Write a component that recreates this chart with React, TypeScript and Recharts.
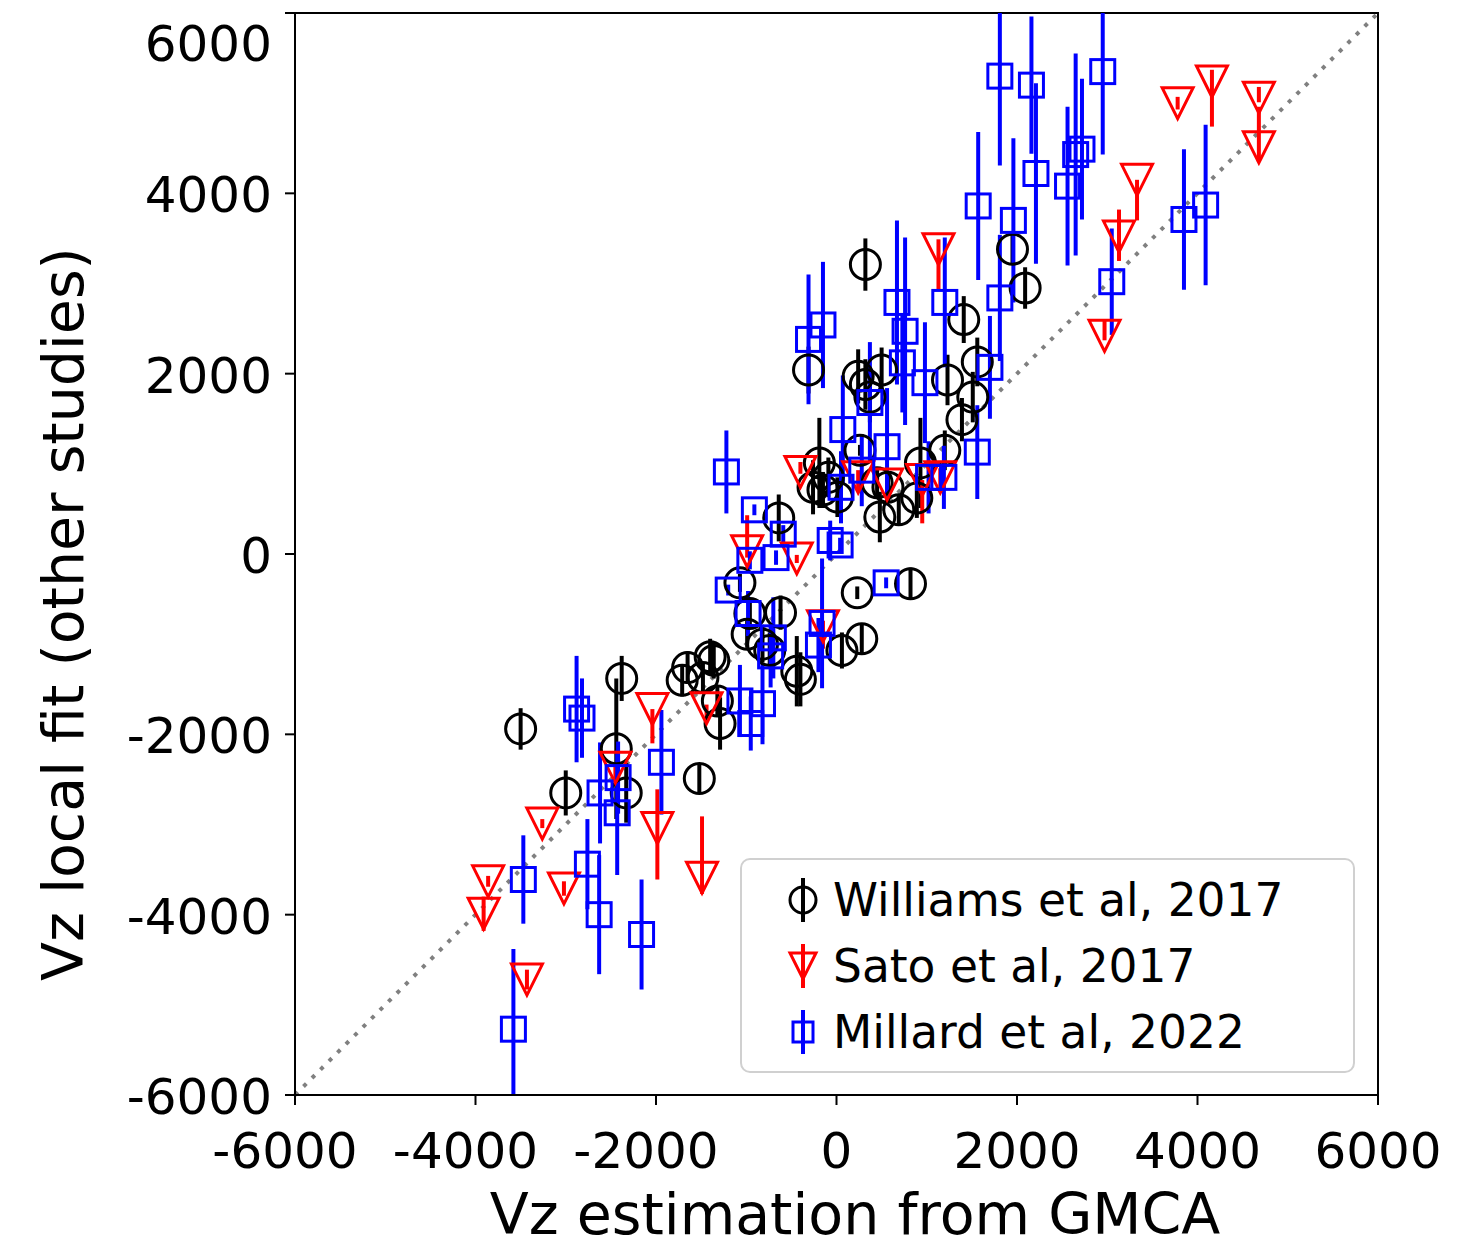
import React from 'react';
import { ScatterChart, Scatter, XAxis, YAxis, ErrorBar, ReferenceLine, ReferenceArea, Legend, Label } from 'recharts';

// Williams et al, 2017
const williamsX = [-3500, -3000, -2380, -2440, -2330, -1520, -1710, -1650, -1400, -1360, -1480, -1320, -1290, -1070, 230, -960, -620, -990, -820, -740, -440, -400, 60, 280, 820, -640, -310, 240, 320, 500, 370, 1230, 1560, 1390, 1510, 1200, 260, -190, -260, -90, 10, -150, 480, 690, 890, 930, 570, 450, 320, 1950, 2090, 1410];
const williamsY = [-1940, -2650, -1380, -2160, -2650, -2490, -1400, -1260, -1140, -1180, -1370, -1630, -1880, -320, -430, -660, -650, -890, -1000, -1070, -1300, -1390, -1070, -940, -330, 400, 2040, 1970, 1880, 2040, 1740, 1930, 2130, 1490, 1740, 1150, 1150, 1010, 740, 850, 630, 710, 410, 490, 620, 1010, 740, 790, 3210, 3380, 2950, 2600];
const williamsErr = [230, 250, 250, 780, 330, 150, 180, 180, 200, 200, 150, 170, 290, 100, 70, 120, 190, 150, 200, 200, 390, 300, 200, 170, 180, 260, 260, 300, 280, 250, 280, 280, 270, 240, 280, 220, 60, 500, 300, 220, 220, 200, 280, 170, 220, 500, 170, 150, 290, 170, 230, 260];

// Sato et al, 2017 (errors as [below, above])
const satoX = [-3860, -3910, -3430, -3260, -3020, -2450, -2040, -1985, -1490, -1440, -990, -440, -400, -150, 240, 560, 950, 1150, 1130, 2970, 3130, 3330, 3780, 4160, 4680, 4680];
const satoY = [-3630, -3990, -4720, -2990, -3710, -2370, -1720, -3040, -3590, -1710, 30, -50, 910, -800, 850, 770, 820, 850, 3380, 2420, 3520, 4150, 5000, 5240, 5060, 4510];
const satoErr = [[60, 60], [190, 190], [110, 110], [50, 50], [80, 80], [150, 50], [380, 0], [570, 430], [180, 680], [120, 40], [70, 400], [50, 40], [20, 110], [250, 60], [150, 80], [150, 100], [480, 0], [100, 100], [450, 110], [50, 180], [270, 300], [450, 0], [70, 70], [500, 130], [50, 120], [160, 450]];

// Millard et al, 2022
const millardX = [-3580, -3470, -2880, -2820, -2760, -2630, -2620, -2430, -2420, -2160, -1940, -1220, -1200, -910, -960, -670, -590, -70, 40, 550, -160, -200, -980, -700, -730, -1070, -820, -950, -310, -150, 70, 670, 760, 730, 980, 1200, 1810, 1700, 1560, 1810, 2160, 2950, 1570, 1960, 2210, 2560, 2650, 2720, 3050, 3850, 4090, 560, 370, 280, 50, 1020, 1190];
const millardY = [-5270, -3610, -1720, -1820, -3440, -4000, -2650, -2870, -2480, -4220, -2310, 910, -400, 490, -70, -40, 220, 150, 100, -320, -770, -1010, -660, -930, -1130, -1630, -1660, -1880, 2380, 2540, 1380, 2790, 2470, 2120, 1900, 2790, 2840, 2070, 1130, 5300, 5200, 5350, 3860, 3700, 4220, 4080, 4430, 4490, 3020, 3710, 3870, 1190, 1680, 930, 740, 850, 850];
const millardErr = [890, 490, 590, 440, 500, 660, 560, 690, 400, 610, 580, 460, 60, 60, 100, 80, 100, 220, 80, 60, 720, 300, 250, 450, 350, 400, 450, 300, 720, 700, 600, 910, 1040, 550, 670, 720, 700, 570, 520, 990, 760, 920, 820, 910, 1000, 880, 1120, 780, 590, 780, 890, 650, 670, 400, 400, 400, 350];

const axisTicks = [-6000, -4000, -2000, 0, 2000, 4000, 6000];
const LIM = 6000;

const williams = williamsX.map((x, i) => ({ x, y: williamsY[i], err: williamsErr[i] }));
const sato = satoX.map((x, i) => ({ x, y: satoY[i], err: satoErr[i] }));
const millard = millardX.map((x, i) => ({ x, y: millardY[i], err: millardErr[i] }));

// keep error bars inside the axes box (matplotlib clips them there)
// recharts hands the scatter point item here, the original row is in .payload
const clippedErr = (d: any) => {
  const row = d.payload ?? d;
  const [lo, hi] = Array.isArray(row.err) ? row.err : [row.err, row.err];
  return [Math.min(lo, row.y + LIM), Math.min(hi, LIM - row.y)];
};

const FONT = 'DejaVu Sans';

const circleShape = (p: any) => (
  <circle cx={p.cx} cy={p.cy} r={15} fill="none" stroke="#000" strokeWidth={3} />
);
const triangleShape = (p: any) => (
  <polygon
    points={`${p.cx - 15.5},${p.cy - 15.5} ${p.cx + 15.5},${p.cy - 15.5} ${p.cx},${p.cy + 15.5}`}
    fill="none"
    stroke="#ff0000"
    strokeWidth={3}
  />
);
const squareShape = (p: any) => (
  <rect x={p.cx - 12} y={p.cy - 12} width={24} height={24} fill="none" stroke="#0000ff" strokeWidth={3} />
);

const XTick = (props: any) => (
  <text
    x={props.x + (props.payload.value < 0 ? -10 : 0)}
    y={props.y + 63}
    textAnchor="middle"
    fontSize={50}
    fontFamily={FONT}
    fill="#000"
  >
    {props.payload.value}
  </text>
);

const YTick = (props: any) => (
  <text
    x={props.x}
    y={props.y + 19 + (props.payload.value === 6000 ? 29 : 0)}
    textAnchor="end"
    fontSize={50}
    fontFamily={FONT}
    fill="#000"
  >
    {props.payload.value}
  </text>
);

const legendItems = [
  { name: 'Williams et al, 2017', color: '#000', shape: 'circle' },
  { name: 'Sato et al, 2017', color: '#ff0000', shape: 'triangle' },
  { name: 'Millard et al, 2022', color: '#0000ff', shape: 'square' },
];

const renderLegend = () => (
  <svg width={615} height={215}>
    <rect x={1} y={1} width={613} height={213} rx={9} fill="rgba(255,255,255,0.8)" stroke="#d0d0d0" strokeWidth={2} />
    {legendItems.map((it, i) => {
      const cy = 42 + i * 66;
      const cx = 63;
      return (
        <g key={it.name}>
          <line x1={cx} x2={cx} y1={cy - 22} y2={cy + 22} stroke={it.color} strokeWidth={4} />
          {it.shape === 'circle' && <circle cx={cx} cy={cy} r={13} fill="none" stroke={it.color} strokeWidth={3} />}
          {it.shape === 'triangle' && (
            <polygon points={`${cx - 13},${cy - 13} ${cx + 13},${cy - 13} ${cx},${cy + 13}`} fill="none" stroke={it.color} strokeWidth={3} />
          )}
          {it.shape === 'square' && <rect x={cx - 10} y={cy - 10} width={20} height={20} fill="none" stroke={it.color} strokeWidth={3} />}
          <text x={93} y={cy + 16} fontSize={45.5} fontFamily={FONT} fill="#000">{it.name}</text>
        </g>
      );
    })}
  </svg>
);

const App = () => {
  return (
    <div style={{ position: 'absolute', left: 0, top: 0, width: 1484, height: 1247, background: '#fff', fontFamily: FONT }}>
      <ScatterChart width={1484} height={1247} margin={{ top: 13, right: 106, bottom: 0, left: 0 }}>
        <XAxis
          type="number"
          dataKey="x"
          domain={[-LIM, LIM]}
          ticks={axisTicks}
          interval={0}
          allowDataOverflow
          height={152}
          tickSize={10}
          tickMargin={0}
          axisLine={{ stroke: '#000', strokeWidth: 2 }}
          tickLine={{ stroke: '#000', strokeWidth: 2 }}
          tick={<XTick />}
        >
          <Label
            content={() => (
              <text x={855} y={1234} textAnchor="middle" fontSize={57} fontFamily={FONT} fill="#000">
                Vz estimation from GMCA
              </text>
            )}
          />
        </XAxis>
        <YAxis
          type="number"
          dataKey="y"
          domain={[-LIM, LIM]}
          ticks={axisTicks}
          interval={0}
          allowDataOverflow
          width={295}
          tickSize={10}
          tickMargin={13}
          axisLine={{ stroke: '#000', strokeWidth: 2 }}
          tickLine={{ stroke: '#000', strokeWidth: 2 }}
          tick={<YTick />}
        >
          <Label
            content={() => (
              <text x={83} y={614} transform="rotate(-90 83 614)" textAnchor="middle" fontSize={57} fontFamily={FONT} fill="#000">
                Vz local fit (other studies)
              </text>
            )}
          />
        </YAxis>
        <ReferenceArea x1={-LIM} x2={LIM} y1={-LIM} y2={LIM} fill="none" stroke="#000" strokeWidth={2} />
        <ReferenceLine
          segment={[{ x: -LIM, y: -LIM }, { x: LIM, y: LIM }]}
          stroke="#808080"
          strokeWidth={4}
          strokeDasharray="4 8"
        />
        <Scatter name="Williams et al, 2017" data={williams} shape={circleShape} isAnimationActive={false}>
          <ErrorBar dataKey={clippedErr} direction="y" width={0} stroke="#000" strokeWidth={4} isAnimationActive={false} />
        </Scatter>
        <Scatter name="Sato et al, 2017" data={sato} shape={triangleShape} isAnimationActive={false}>
          <ErrorBar dataKey={clippedErr} direction="y" width={0} stroke="#ff0000" strokeWidth={4} isAnimationActive={false} />
        </Scatter>
        <Scatter name="Millard et al, 2022" data={millard} shape={squareShape} isAnimationActive={false}>
          <ErrorBar dataKey={clippedErr} direction="y" width={0} stroke="#0000ff" strokeWidth={4} isAnimationActive={false} />
        </Scatter>
        <Legend
          verticalAlign="middle"
          content={renderLegend}
          wrapperStyle={{ left: 740, top: 858, width: 615, height: 215 }}
        />
      </ScatterChart>
    </div>
  );
};

export default App;
